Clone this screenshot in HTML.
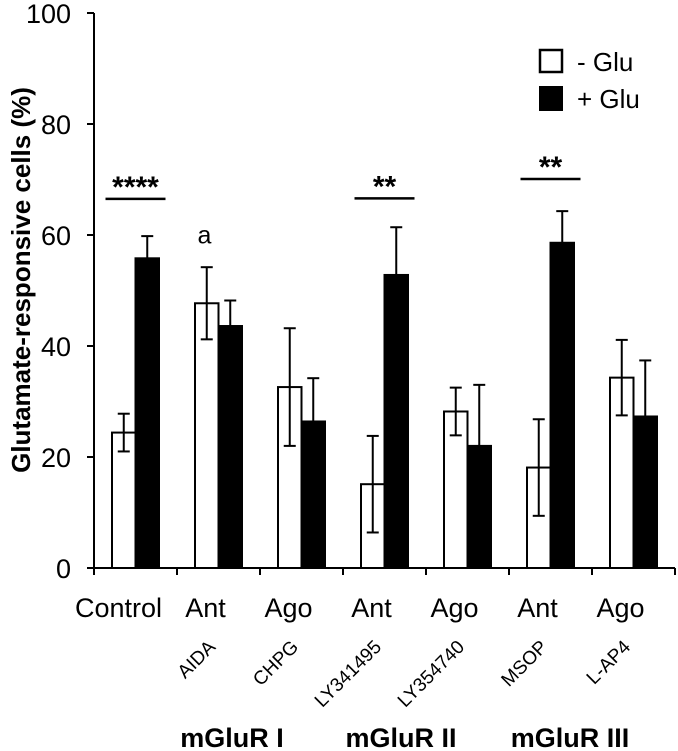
<!DOCTYPE html>
<html><head><meta charset="utf-8"><style>
html,body{margin:0;padding:0;background:#fff;}
svg{display:block;font-family:"Liberation Sans",Arial,sans-serif;}
</style></head><body>
<svg id="chart" width="678" height="751" viewBox="0 0 678 751"></svg>
<script>
const categories = ["Control","AIDA","CHPG","LY341495","LY354740","MSOP","L-AP4"];
const typeLabels = ["Control","Ant","Ago","Ant","Ago","Ant","Ago"];
const drugLabels = ["","AIDA","CHPG","LY341495","LY354740","MSOP","L-AP4"];
const minusGlu = [24.4,47.7,32.6,15.1,28.2,18.1,34.3];
const minusGluErr = [3.4,6.5,10.6,8.7,4.3,8.7,6.8];
const plusGlu = [55.8,43.6,26.4,52.8,22.0,58.6,27.3];
const plusGluErr = [4.0,4.6,7.8,8.6,11.0,5.7,10.1];
const yTicks = [0,20,40,60,80,100];
const groupLabels = ["mGluR I","mGluR II","mGluR III"];
const groupX = [232,401,570];
const sigIdx = [0,3,5];
const sigText = ["****","**","**"];
const sigLevel = [66.5,66.6,70.1];

const NS="http://www.w3.org/2000/svg";
const svg=document.getElementById('chart');
const X0=94, CW=83, Y0=568, YS=5.55;
const y=v=>Y0-v*YS;
const xc=i=>X0+CW*(i+0.5);
function mk(tag,attrs,parent){const e=document.createElementNS(NS,tag);for(const k in attrs)e.setAttribute(k,attrs[k]);(parent||svg).appendChild(e);return e;}

let e;
e=mk('line',{x1:X0,y1:y(100),x2:X0,y2:Y0,stroke:'#000','stroke-width':2});


e=mk('line',{x1:X0,y1:Y0,x2:X0+CW*7,y2:Y0,stroke:'#000','stroke-width':2});


yTicks.forEach(t=>{
  e=mk('line',{x1:X0-7,y1:y(t),x2:X0,y2:y(t),stroke:'#000','stroke-width':2});
  
  
  e=mk('text',{x:71,y:y(t)+10,'text-anchor':'end','font-size':27});
  e.textContent=t;
  
  
});
for(let i=0;i<=7;i++){
  e=mk('line',{x1:X0+CW*i,y1:Y0,x2:X0+CW*i,y2:Y0+7,stroke:'#000','stroke-width':2});
  
  
}
e=mk('text',{x:0,y:0,'text-anchor':'middle','font-size':26,'font-weight':'bold',transform:'translate(30,280) rotate(-90)'});
e.textContent='Glutamate-responsive cells (%)';



const BW=23.5;
categories.forEach((c,i)=>{
  const cx=xc(i);
  e=mk('rect',{x:cx-BW,y:y(minusGlu[i]),width:BW,height:Y0-y(minusGlu[i]),fill:'#fff',stroke:'#000','stroke-width':2});
  
  
  e=mk('rect',{x:cx,y:y(plusGlu[i]),width:BW,height:Y0-y(plusGlu[i]),fill:'#000',stroke:'#000','stroke-width':2});
  
  
  [[cx-BW/2,minusGlu[i],minusGluErr[i],'minus'],[cx+BW/2,plusGlu[i],plusGluErr[i],'plus']].forEach(([ex,v,er,s])=>{
    const g=mk('g',{stroke:'#000','stroke-width':2});
    
    
    mk('line',{x1:ex,y1:y(v+er),x2:ex,y2:y(v-er)},g);
    mk('line',{x1:ex-6,y1:y(v+er),x2:ex+6,y2:y(v+er)},g);
    mk('line',{x1:ex-6,y1:y(v-er),x2:ex+6,y2:y(v-er)},g);
  });
  e=mk('text',{x:i===0?cx-17:cx-13,y:617,'text-anchor':'middle','font-size':27});
  e.textContent=typeLabels[i];
  
  
  if(drugLabels[i]){
    e=mk('text',{x:0,y:0,'text-anchor':'end','font-size':19,transform:'translate('+(cx-2)+',648) rotate(-45)'});
    e.textContent=drugLabels[i];
    
    
  }
});
groupLabels.forEach((g,k)=>{
  e=mk('text',{x:groupX[k],y:747,'text-anchor':'middle','font-size':27,'font-weight':'bold'});
  e.textContent=g;
  
  
});
sigIdx.forEach((i,k)=>{
  const cx=xc(i);
  e=mk('line',{x1:cx-30,y1:y(sigLevel[k]),x2:cx+30,y2:y(sigLevel[k]),stroke:'#000','stroke-width':2.5});
  
  
  e=mk('text',{x:cx,y:y(sigLevel[k])-2,'text-anchor':'middle','font-size':30,'font-weight':'bold'});
  e.textContent=sigText[k];
  
  
});
e=mk('text',{x:xc(1)-14,y:y(58.5),'text-anchor':'middle','font-size':25});
e.textContent='a';



const lg=mk('g',{});


e=mk('rect',{x:540,y:50,width:22,height:22,fill:'#fff',stroke:'#000','stroke-width':2.5},lg);


e=mk('text',{x:577,y:71,'font-size':26},lg);
e.textContent='- Glu';


e=mk('rect',{x:540,y:87,width:22,height:23,fill:'#000',stroke:'#000','stroke-width':2},lg);


e=mk('text',{x:577,y:108,'font-size':26},lg);
e.textContent='+ Glu';


</script>
</body></html>
